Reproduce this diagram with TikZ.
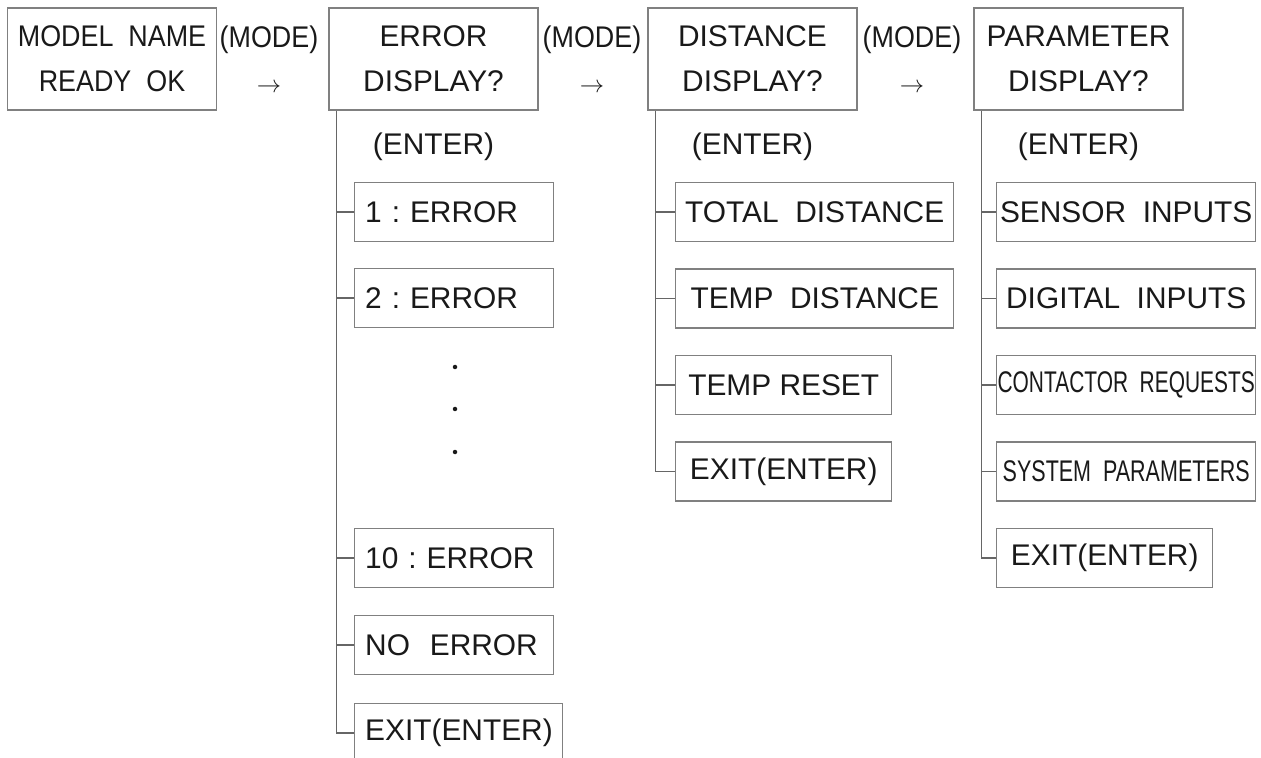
\documentclass[tikz,border=0pt]{standalone}
\usepackage{fontspec}
\setmainfont{Liberation Sans}
\frenchspacing
\begin{document}
\begin{tikzpicture}[
  every node/.style={font=\fontsize{17}{22.8}\selectfont,text=black!90},
  screen/.style={draw=black!50,line width=0.8pt,minimum width=4.18cm,minimum height=2.04cm,align=center,inner sep=0pt,font=\fontsize{17}{25.6}\selectfont},
  menu/.style={draw=black!50,line width=0.8pt,minimum height=1.18cm,anchor=west,inner sep=0pt},
  errmenu/.style={menu,text width=3.56cm,inner xsep=0.21cm,align=left},
  keyname/.style={align=center,inner sep=0pt,font=\fontsize{17}{25.6}\selectfont},
  trunk/.style={draw=black!60,line width=0.9pt}
]
  \useasboundingbox (0,0) rectangle (25.22,-15.16);
  \node[screen](model) at (2.24,-1.18){\scalebox{0.9}[1]{MODEL~~NAME}\\\scalebox{0.9}[1]{READY~~OK}};
  \node[screen](err) at (8.67,-1.18){ERROR\\DISPLAY?};
  \node[screen](dist) at (15.05,-1.18){DISTANCE\\DISPLAY?};
  \node[screen](para) at (21.57,-1.18){PARAMETER\\DISPLAY?};
  \node[keyname](mode1) at (5.38,-1.18){\scalebox{0.9}[1]{(MODE)}\\\scalebox{0.8}{$\rightarrow$}};
  \node[keyname](mode2) at (11.84,-1.18){\scalebox{0.9}[1]{(MODE)}\\\scalebox{0.8}{$\rightarrow$}};
  \node[keyname](mode3) at (18.24,-1.18){\scalebox{0.9}[1]{(MODE)}\\\scalebox{0.8}{$\rightarrow$}};
  \node(errenter) at (8.67,-2.94){(ENTER)};
  \node(distenter) at (15.05,-2.94){(ENTER)};
  \node(paraenter) at (21.57,-2.94){(ENTER)};
  \node[errmenu](eone) at (7.08,-4.24){1 : ERROR};
  \node[errmenu](etwo) at (7.08,-5.96){2 : ERROR};
  \node[errmenu](eten) at (7.08,-11.16){10 : ERROR};
  \node[errmenu](enone) at (7.08,-12.90){NO~~ERROR};
  \node[errmenu,text width=3.74cm](eexit) at (7.08,-14.66){EXIT(ENTER)};
  \fill[black!90](9.10,-7.34) circle (0.045);
  \fill[black!90](9.10,-8.18) circle (0.045);
  \fill[black!90](9.10,-9.04) circle (0.045);
  \node[menu,minimum width=5.56cm](dtotal) at (13.5,-4.24){TOTAL~~DISTANCE};
  \node[menu,minimum width=5.56cm](dtemp) at (13.5,-5.97){TEMP~~DISTANCE};
  \node[menu,minimum width=4.32cm](dreset) at (13.5,-7.70){TEMP RESET};
  \node[menu,minimum width=4.32cm](dexit) at (13.5,-9.43){EXIT(ENTER)};
  \node[menu,minimum width=5.18cm](psensor) at (19.92,-4.24){SENSOR~~INPUTS};
  \node[menu,minimum width=5.18cm](pdigital) at (19.92,-5.97){DIGITAL~~INPUTS};
  \node[menu,minimum width=5.18cm](pcontact) at (19.92,-7.70){\scalebox{0.7}[1]{CONTACTOR~~REQUESTS}};
  \node[menu,minimum width=5.18cm](psystem) at (19.92,-9.43){\scalebox{0.72}[1]{SYSTEM~~PARAMETERS}};
  \node[menu,minimum width=4.32cm](pexit) at (19.92,-11.16){EXIT(ENTER)};
  \coordinate(errtrunk) at ([xshift=0.16cm]err.south west);
  \coordinate(disttrunk) at ([xshift=0.16cm]dist.south west);
  \coordinate(paratrunk) at ([xshift=0.16cm]para.south west);
  \draw[trunk](errtrunk) |- (eexit.west);
  \draw[trunk](disttrunk) |- (dexit.west);
  \draw[trunk](paratrunk) |- (pexit.west);
  \foreach \n in {eone,etwo,eten,enone}
    \draw[trunk](errtrunk |- \n.west) -- (\n.west);
  \foreach \n in {dtotal,dtemp,dreset}
    \draw[trunk](disttrunk |- \n.west) -- (\n.west);
  \foreach \n in {psensor,pdigital,pcontact,psystem}
    \draw[trunk](paratrunk |- \n.west) -- (\n.west);
\end{tikzpicture}
\end{document}
